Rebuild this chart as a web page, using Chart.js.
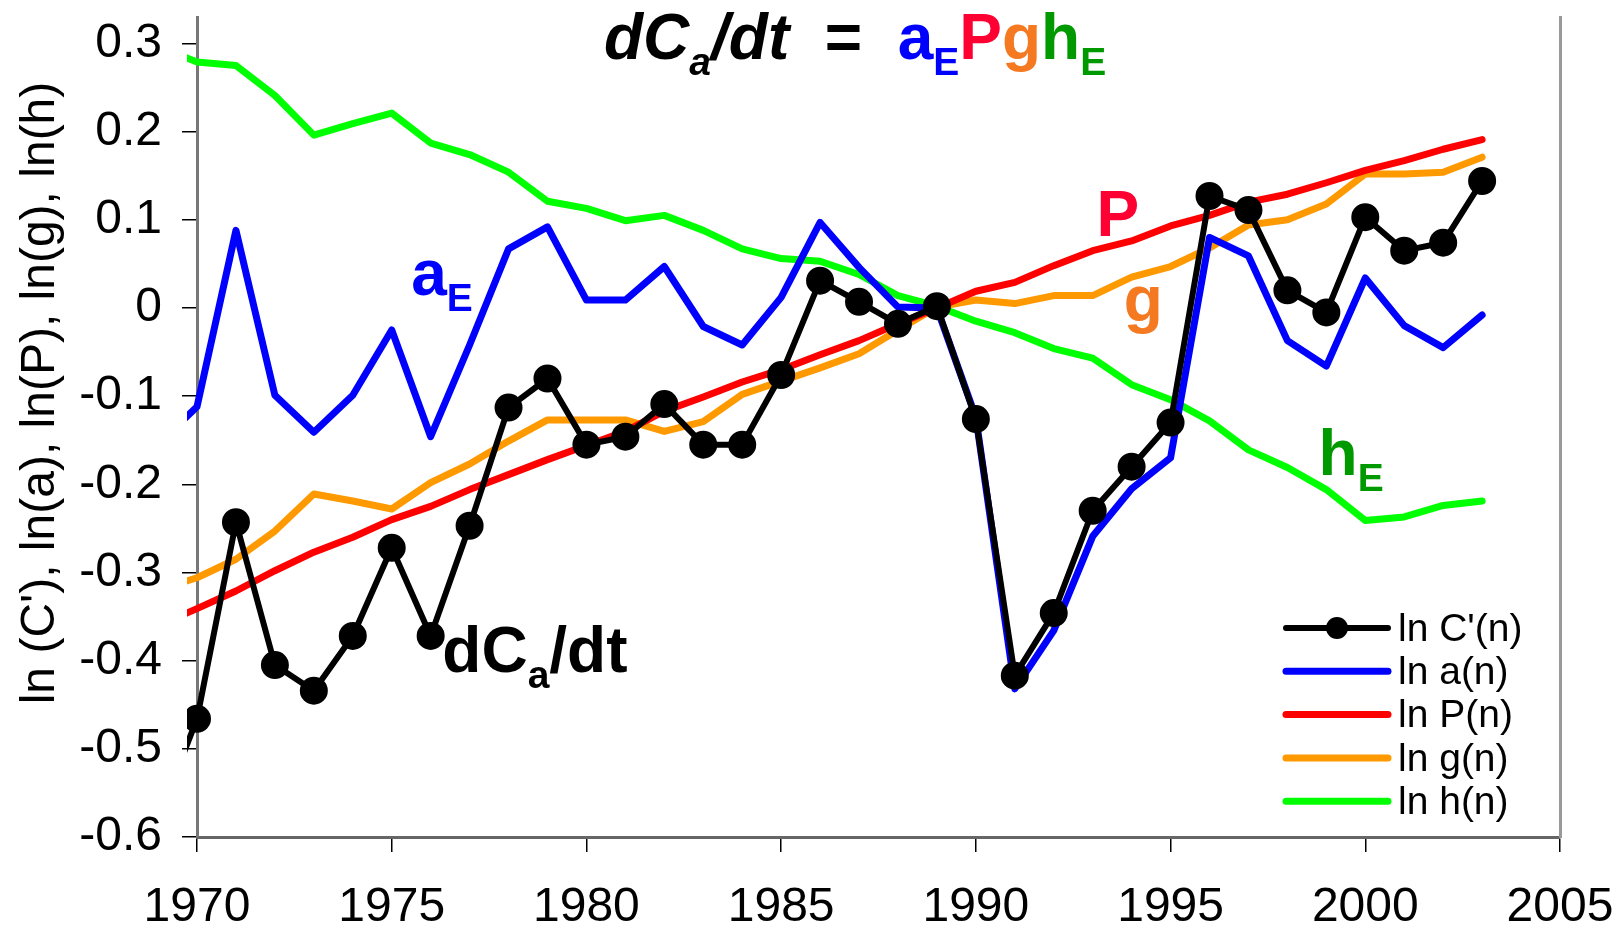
<!DOCTYPE html>
<html>
<head>
<meta charset="utf-8">
<script src="https://cdn.jsdelivr.net/npm/chart.js@4.4.1/dist/chart.umd.min.js"></script>
<style>
  html, body { margin: 0; padding: 0; background: #fff; }
  #wrap { width: 1624px; height: 927px; position: relative; }
</style>
</head>
<body>
<div id="wrap"><canvas id="myChart"></canvas></div>
<script>
// data (1969 only shows as the clipped stub left of the axis)
const years = [1969, 1970, 1971, 1972, 1973, 1974, 1975, 1976, 1977, 1978, 1979, 1980,
  1981, 1982, 1983, 1984, 1985, 1986, 1987, 1988, 1989, 1990, 1991, 1992, 1993, 1994,
  1995, 1996, 1997, 1998, 1999, 2000, 2001, 2002, 2003];

const lnC = [-0.58, -0.466, -0.243, -0.405, -0.434, -0.372, -0.272, -0.372, -0.247, -0.113,
  -0.080, -0.155, -0.146, -0.109, -0.155, -0.155, -0.076, 0.031, 0.007, -0.018, 0.002,
  -0.126, -0.417, -0.346, -0.230, -0.180, -0.130, 0.127, 0.111, 0.020, -0.005, 0.103,
  0.065, 0.074, 0.144];
const lnA = [-0.155, -0.112, 0.088, -0.099, -0.141, -0.099, -0.025, -0.146, -0.042, 0.067,
  0.092, 0.009, 0.009, 0.047, -0.021, -0.042, 0.012, 0.097, 0.046, 0.001, 0.0,
  -0.124, -0.432, -0.366, -0.259, -0.205, -0.170, 0.080, 0.059, -0.037, -0.066, 0.034,
  -0.020, -0.045, -0.008];
const lnP = [-0.36, -0.341, -0.321, -0.298, -0.277, -0.260, -0.240, -0.225, -0.206, -0.189,
  -0.172, -0.156, -0.140, -0.117, -0.101, -0.084, -0.070, -0.053, -0.037, -0.018, 0.0,
  0.019, 0.029, 0.048, 0.065, 0.076, 0.093, 0.105, 0.120, 0.129, 0.142, 0.156,
  0.167, 0.180, 0.191];
const lnG = [-0.32, -0.306, -0.285, -0.253, -0.211, -0.219, -0.228, -0.198, -0.177, -0.151,
  -0.127, -0.127, -0.127, -0.140, -0.129, -0.098, -0.083, -0.068, -0.052, -0.025, 0.001,
  0.009, 0.005, 0.014, 0.014, 0.035, 0.047, 0.068, 0.094, 0.100, 0.118, 0.152,
  0.152, 0.154, 0.171];
const lnH = [0.296, 0.279, 0.275, 0.241, 0.196, 0.209, 0.221, 0.187, 0.174, 0.154,
  0.121, 0.113, 0.099, 0.105, 0.088, 0.067, 0.056, 0.053, 0.038, 0.014, 0.002,
  -0.015, -0.028, -0.046, -0.057, -0.087, -0.104, -0.128, -0.161, -0.181, -0.206, -0.241,
  -0.237, -0.224, -0.219];

const seriesNames = ["ln C'(n)", "ln a(n)", "ln P(n)", "ln g(n)", "ln h(n)"];
const seriesColors = ["#000000", "#0000ff", "#ff0000", "#ff9900", "#00ff00"];

const xTicks = [1970, 1975, 1980, 1985, 1990, 1995, 2000, 2005];
const yTicks = [-0.6, -0.5, -0.4, -0.3, -0.2, -0.1, 0, 0.1, 0.2, 0.3];

const yTitle = "ln (C'), ln(a), ln(P), ln(g), ln(h)";

const FONT = '"Liberation Sans", Arial, sans-serif';

function pts(vals) {
  return years.map((yr, i) => ({ x: yr, y: vals[i] }));
}

// draws a row of text pieces (for subscripts / mixed colours)
function drawRuns(ctx, x, y, runs) {
  ctx.save();
  ctx.textAlign = "left";
  ctx.textBaseline = "alphabetic";
  runs.forEach((r) => {
    ctx.font = r.font;
    ctx.fillStyle = r.color;
    ctx.fillText(r.text, x, y + (r.dy || 0));
    x += ctx.measureText(r.text).width;
  });
  ctx.restore();
}

const big = "bold 64px " + FONT;
const bigI = "italic bold 64px " + FONT;
const sub = "bold 39px " + FONT;
const subI = "italic bold 39px " + FONT;

const overlay = {
  id: "overlay",
  afterDraw(chart) {
    const ctx = chart.ctx;
    const xs = chart.scales.x, ys = chart.scales.y;
    const px = (v) => xs.getPixelForValue(v);
    const py = (v) => ys.getPixelForValue(v);

    // title equation
    drawRuns(ctx, 604, 58.5, [
      { text: "dC", font: bigI, color: "#000" },
      { text: "a", font: subI, color: "#000", dy: 16 },
      { text: "/dt", font: bigI, color: "#000" },
      { text: "  =  ", font: big, color: "#000" },
      { text: "a", font: big, color: "#0000ff" },
      { text: "E", font: sub, color: "#0000ff", dy: 16 },
      { text: "P", font: big, color: "#ff0033" },
      { text: "g", font: big, color: "#f47920" },
      { text: "h", font: big, color: "#009900" },
      { text: "E", font: sub, color: "#009900", dy: 16 }
    ]);

    // series labels
    drawRuns(ctx, px(1975.5), py(0.015), [
      { text: "a", font: big, color: "#0000ff" },
      { text: "E", font: sub, color: "#0000ff", dy: 16 }
    ]);
    drawRuns(ctx, px(1993.1), py(0.082), [{ text: "P", font: big, color: "#ff0033" }]);
    drawRuns(ctx, px(1993.8), py(-0.015), [{ text: "g", font: big, color: "#f47920" }]);
    drawRuns(ctx, px(1998.8), py(-0.189), [
      { text: "h", font: big, color: "#009900" },
      { text: "E", font: sub, color: "#009900", dy: 16 }
    ]);
    drawRuns(ctx, px(1976.3), py(-0.413), [
      { text: "dC", font: big, color: "#000" },
      { text: "a", font: sub, color: "#000", dy: 16 },
      { text: "/dt", font: big, color: "#000" }
    ]);

    // y axis title
    ctx.save();
    ctx.translate(54, 393);
    ctx.rotate(-Math.PI / 2);
    ctx.font = "48px " + FONT;
    ctx.fillStyle = "#000";
    ctx.textAlign = "center";
    ctx.textBaseline = "alphabetic";
    ctx.fillText(yTitle, 0, 0);
    ctx.restore();

    // legend
    ctx.save();
    ctx.font = "39px " + FONT;
    ctx.textBaseline = "middle";
    ctx.textAlign = "left";
    seriesNames.forEach((name, i) => {
      const y = 628 + i * 43.3;
      ctx.strokeStyle = seriesColors[i];
      ctx.lineWidth = i === 0 ? 6 : 7;
      ctx.lineCap = "round";
      ctx.beginPath();
      ctx.moveTo(1286, y);
      ctx.lineTo(1388, y);
      ctx.stroke();
      if (i === 0) {
        ctx.fillStyle = "#000";
        ctx.beginPath();
        ctx.arc(1337, y, 11, 0, Math.PI * 2);
        ctx.fill();
      }
      ctx.fillStyle = "#000";
      ctx.fillText(name, 1398, y + 2);
    });
    ctx.restore();
  }
};

const lineSet = (label, vals, color, width, dots) => ({
  label: label,
  data: pts(vals),
  borderColor: color,
  backgroundColor: color,
  borderWidth: width,
  borderCapStyle: "round",
  borderJoinStyle: "round",
  pointRadius: dots ? 11 : 0,
  pointHoverRadius: dots ? 11 : 0,
  tension: 0,
  clip: { left: 10, top: 20, right: 10, bottom: 10 }
});

// keep the plot box where the reference has it
function noPad(axis) {
  axis.paddingTop = 0;
  axis.paddingBottom = 0;
  axis.paddingLeft = 0;
  axis.paddingRight = 0;
}

const ctx = document.getElementById("myChart");

new Chart(ctx, {
  type: "line",
  data: {
    datasets: [
      lineSet(seriesNames[0], lnC, seriesColors[0], 6, true),
      lineSet(seriesNames[1], lnA, seriesColors[1], 7, false),
      lineSet(seriesNames[2], lnP, seriesColors[2], 7, false),
      lineSet(seriesNames[3], lnG, seriesColors[3], 7, false),
      lineSet(seriesNames[4], lnH, seriesColors[4], 7, false)
    ]
  },
  options: {
    responsive: true,
    maintainAspectRatio: false,
    animation: false,
    events: [],
    layout: { padding: { left: 0, top: 13, right: 64, bottom: 0 } },
    scales: {
      x: {
        type: "linear",
        min: 1970,
        max: 2005,
        afterBuildTicks: (axis) => { axis.ticks = xTicks.map((v) => ({ value: v })); },
        afterFit: (axis) => { axis.height = 90; noPad(axis); },
        ticks: {
          callback: (v) => String(v),
          font: { family: FONT, size: 48 },
          color: "#000",
          padding: 27,
          maxRotation: 0,
          autoSkip: false
        },
        grid: { drawOnChartArea: false, drawTicks: true, tickLength: 15, color: "#000", lineWidth: 1.5 },
        border: { display: true, color: "#666", width: 3 }
      },
      y: {
        type: "linear",
        min: -0.6,
        max: 0.33,
        afterBuildTicks: (axis) => { axis.ticks = yTicks.map((v) => ({ value: v })); },
        afterFit: (axis) => { axis.width = 197; noPad(axis); },
        ticks: {
          callback: (v) => (v === 0 ? "0" : v.toFixed(1)),
          font: { family: FONT, size: 48 },
          color: "#000",
          padding: 20,
          autoSkip: false
        },
        grid: { drawOnChartArea: false, drawTicks: true, tickLength: 15, color: "#000", lineWidth: 1.5 },
        border: { display: true, color: "#777", width: 3 }
      },
      y2: {
        type: "linear",
        position: "right",
        min: -0.6,
        max: 0.33,
        afterFit: (axis) => { axis.width = 0; noPad(axis); },
        ticks: { display: false },
        grid: { display: false },
        border: { display: true, color: "#999", width: 3 }
      }
    },
    plugins: {
      legend: { display: false },
      tooltip: { enabled: false }
    }
  },
  plugins: [overlay]
});
</script>
</body>
</html>
